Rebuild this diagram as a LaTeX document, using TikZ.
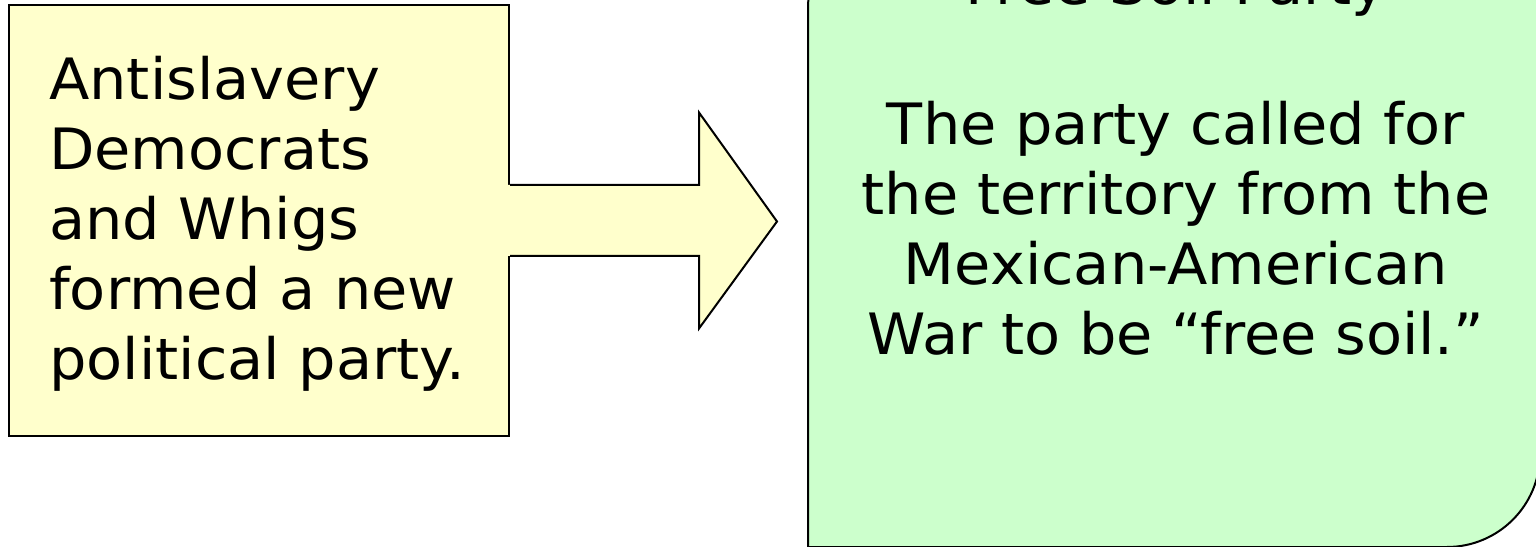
\documentclass[tikz,border=0pt]{standalone}
\usepackage{fontspec}
\setmainfont[FakeStretch=1.035]{DejaVu Sans}
\definecolor{yfill}{HTML}{FFFFCC}
\definecolor{gfill}{HTML}{CCFFCC}
\begin{document}
\begin{tikzpicture}[x=1pt,y=1pt]
\tikzset{
  bigfont/.style={font=\fontsize{57}{70}\selectfont, inner sep=0pt},
  ltxt/.style={bigfont, anchor=base west},
  ctxt/.style={bigfont, anchor=base},
  outline/.style={draw=black, line width=2pt, line join=miter},
}
\useasboundingbox (0,0) rectangle (1536,546);
\fill[white] (0,0) rectangle (1536,546);

% left box
\node[outline, fill=yfill, minimum width=500pt, minimum height=431pt, anchor=south west, inner sep=0pt] (left) at (8,109) {};

% right green box (top-left and bottom-right corners rounded)
\coordinate (gl) at (808,324.5);
\filldraw[outline, fill=gfill] (808,-1) -- (808,538) arc[start angle=180,end angle=90,radius=93] -- (1540,631) -- (1540,92) arc[start angle=0,end angle=-90,radius=93] -- cycle;

% block arrow
\coordinate (tip) at ([xshift=-31pt]gl);
\fill[yfill] ([xshift=-2pt,yshift=35.5pt]left.east) -- ([xshift=189pt,yshift=35.5pt]left.east) -- ([xshift=189pt,yshift=108pt]left.east) -- (tip) -- ([xshift=189pt,yshift=-108pt]left.east) -- ([xshift=189pt,yshift=-35.5pt]left.east) -- ([xshift=-2pt,yshift=-35.5pt]left.east) -- cycle;
\draw[outline] ([yshift=35.5pt]left.east) -- ([xshift=189pt,yshift=35.5pt]left.east) -- ([xshift=189pt,yshift=108pt]left.east) -- (tip) -- ([xshift=189pt,yshift=-108pt]left.east) -- ([xshift=189pt,yshift=-35.5pt]left.east) -- ([yshift=-35.5pt]left.east);

% left text
\node[ltxt] (l1) at (49,446) {Antislavery};
\node[ltxt] (l2) at (49,376) {Democrats};
\node[ltxt] (l3) at (49,306) {and Whigs};
\node[ltxt] (l4) at (49,236) {formed a new};
\node[ltxt] (l5) at (49,166) {political party.};

% right text
\node[ctxt] (g0) at (1176,541) {Free Soil Party};
\node[ctxt] (g1) at (1176,401) {The party called for};
\node[ctxt] (g2) at (1176,331) {the territory from the};
\node[ctxt] (g3) at (1176,261) {Mexican-American};
\node[ctxt] (g4) at (1176,191) {War to be “free soil.”};
\end{tikzpicture}
\end{document}
